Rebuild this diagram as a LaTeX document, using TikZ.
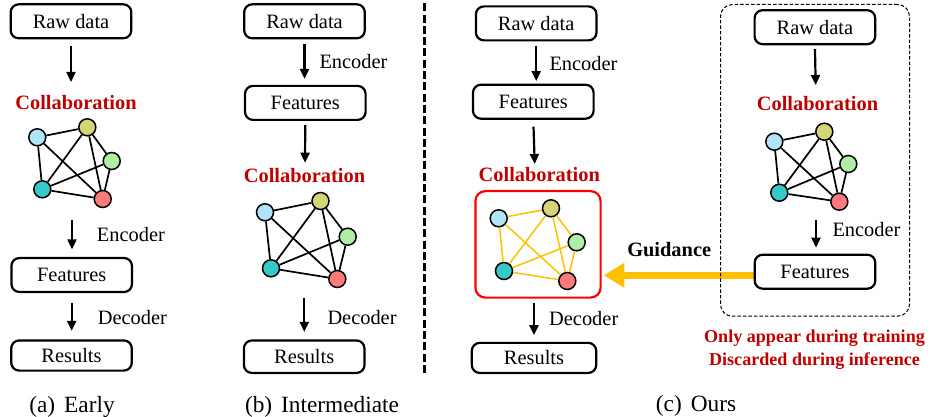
\documentclass[tikz,border=0pt]{standalone}
\usepackage{fontspec}
\setmainfont{Liberation Serif}
\usetikzlibrary{arrows.meta,calc,backgrounds}
\definecolor{dkred}{HTML}{C00000}
\definecolor{cblue}{HTML}{B0E4F6}
\definecolor{cyell}{HTML}{D6D575}
\definecolor{cgreen}{HTML}{B2EDA8}
\definecolor{cteal}{HTML}{35C9C7}
\definecolor{cred}{HTML}{FF7B7B}
\definecolor{corange}{HTML}{FFC000}
\newcommand\fsn{\fontsize{20.4pt}{24pt}\selectfont}
\newcommand\fsc{\fontsize{23.3pt}{27pt}\selectfont}
\newcommand\fsr{\fontsize{18.1pt}{22pt}\selectfont}
\newcommand\drawgraph[7]{%
  \node[gn, fill=cblue]  (#1b) at (#2) {};
  \node[gn, fill=cyell]  (#1y) at (#3) {};
  \node[gn, fill=cgreen] (#1g) at (#4) {};
  \node[gn, fill=cteal]  (#1t) at (#5) {};
  \node[gn, fill=cred]   (#1r) at (#6) {};
  \draw[ge, #7] (#1b) -- (#1y);
  \draw[ge, #7] (#1b) -- (#1t);
  \draw[ge, #7] (#1b) -- (#1r);
  \draw[ge, #7] (#1y) -- (#1t);
  \draw[ge, #7] (#1y) -- (#1g);
  \draw[ge, #7] (#1y) -- (#1r);
  \draw[ge, #7] (#1g) -- (#1t);
  \draw[ge, #7] (#1g) -- (#1r);
  \draw[ge, #7] (#1t) -- (#1r);
}
\begin{document}
\begin{tikzpicture}[x=1pt,y=-1pt,
  box/.style={draw, line width=2.2pt, rounded corners=8pt, minimum width=120.6pt, minimum height=34pt, inner sep=0pt, font=\fsn},
  lab/.style={font=\fsn, inner sep=0pt, anchor=west},
  col/.style={font=\fsn\bfseries, text=dkred, inner sep=0pt},
  arr/.style={line width=2.2pt, -{Triangle[length=10pt,width=9pt]}},
  gn/.style={circle, draw, line width=1.5pt, minimum size=17pt, inner sep=0pt},
  ge/.style={line width=1.7pt},
  captxt/.style={font=\fsc, inner sep=0pt},
  guide/.style={line width=7.5pt, draw=corange, -{Triangle[length=20.6pt,width=23.4pt]}}]
\useasboundingbox (0,0) rectangle (930,417);

% ---------- (a) Early ----------
\node[box] (rawA) at (71,21.3) {Raw data};
\node[col] (colA) at (76,102.5) {Collaboration};
\drawgraph{A}{37.3,137.3}{87.3,127.3}{111.7,161}{42.3,189.3}{102.7,199}{black}
\node[box] (featA) at (71.7,275) {Features};
\node[box, minimum height=30.2pt] (resA) at (71.5,355.5) {Results};
\node[lab] (encA) at (96.7,235) {Encoder};
\node[lab] (decA) at (97.7,318) {Decoder};
\coordinate (a1e) at (71,82);
\coordinate (a2s) at (72,220);
\draw[arr, shorten <=6.6pt] (rawA.south) -- (a1e);
\draw[arr, shorten >=7.6pt] (a2s) -- (a2s |- featA.north);
\draw[arr, shorten <=10.3pt, shorten >=8.5pt] (featA.south) -- (featA.south |- resA.north);
\node[captxt] (capA) at (72,406.5) {(a)\hspace{9pt}Early};

% ---------- (b) Intermediate ----------
\node[box] (rawB) at (304.5,21.3) {Raw data};
\node[box] (featB) at (305.3,102.9) {Features};
\node[col] (colB) at (304.5,175.5) {Collaboration};
\drawgraph{B}{265,212.3}{320.5,201}{347.7,236.7}{271,268.3}{337.3,279}{black}
\node[box, minimum height=32.5pt] (resB) at (304.2,356.7) {Results};
\node[lab] (encB) at (319.3,62) {Encoder};
\node[lab] (decB) at (327.3,318) {Decoder};
\coordinate (b2e) at (305,162.7);
\coordinate (b3s) at (304.3,298.3);
\draw[arr, shorten <=4.6pt, shorten >=5.9pt] (rawB.south) -- (rawB.south |- featB.north);
\draw[arr, shorten <=4.2pt] (featB.south) -- (b2e);
\draw[arr, shorten >=7.5pt] (b3s) -- (b3s |- resB.north);
\node[captxt] (capB) at (322,406.5) {(b)\hspace{9pt}Intermediate};

% ---------- separator ----------
\draw[line width=3pt, dash pattern=on 8pt off 3.3pt] (424,3.3) -- (424,375);

% ---------- (c) Ours, left ----------
\node[box] (rawC) at (536.2,23.4) {Raw data};
\node[box] (featC) at (533.3,101.7) {Features};
\node[col] (colC) at (539.3,175) {Collaboration};
\node[draw=red, line width=2.2pt, rounded corners=10pt, minimum width=125.2pt, minimum height=106.5pt, inner sep=0pt] (rbox) at (538,244.35) {};
\drawgraph{C}{498.7,218.3}{551,208.3}{576.7,242.3}{504,271}{567.3,281}{draw=corange, line width=1.5pt}
\node[box, minimum width=124.4pt, minimum height=30.1pt] (resC) at (534,357.9) {Results};
\node[lab] (encC) at (549.3,63.3) {Encoder};
\node[lab] (decC) at (549,318.3) {Decoder};
\coordinate (c2e) at (534.7,164);
\draw[arr, shorten <=4.2pt, shorten >=2.5pt] (rawC.south) -- (rawC.south |- featC.north);
\draw[arr, shorten <=6.9pt] (featC.south) -- (c2e);
\draw[arr, shorten <=4pt, shorten >=6.6pt] (rbox.south -| resC.south) -- (resC.north);
\node[captxt] (capC) at (696,405.5) {(c)\hspace{9pt}Ours};

% ---------- (c) Ours, right ----------
\node[box] (rawD) at (814.9,27.2) {Raw data};
\node[col] (colD) at (817.5,103.3) {Collaboration};
\drawgraph{D}{774.3,141.7}{824.3,131.7}{848.3,164}{779.3,192.7}{839.3,201.7}{black}
\node[box] (featD) at (815,271.7) {Features};
\node[lab] (encD) at (832.3,230) {Encoder};
\coordinate (d1e) at (815.7,85);
\coordinate (d2s) at (816,220);
\draw[arr, shorten <=3.9pt] (rawD.south) -- (d1e);
\draw[arr, shorten >=5.9pt] (d2s) -- (d2s |- featD.north);
\node[font=\fsn\bfseries, inner sep=0pt] (guid) at (669.2,249.7) {Guidance};
\node[draw, line width=1pt, dash pattern=on 3.5pt off 2pt, rounded corners=12pt, minimum width=189pt, minimum height=311.7pt, inner sep=0pt] (dbox) at (815,160.35) {};
\node[font=\fsr\bfseries, text=dkred, inner sep=0pt, anchor=base] (note1) at (814.5,342.7) {Only appear during training};
\node[font=\fsr\bfseries, text=dkred, inner sep=0pt, anchor=base] (note2) at (814.5,365) {Discarded during inference};
\begin{scope}[on background layer]
  \draw[guide] ($(featD.west)+(0,3.6)$) -- ($(rbox.east |- featD.west)+(2,3.6)$);
\end{scope}
\end{tikzpicture}
\end{document}
